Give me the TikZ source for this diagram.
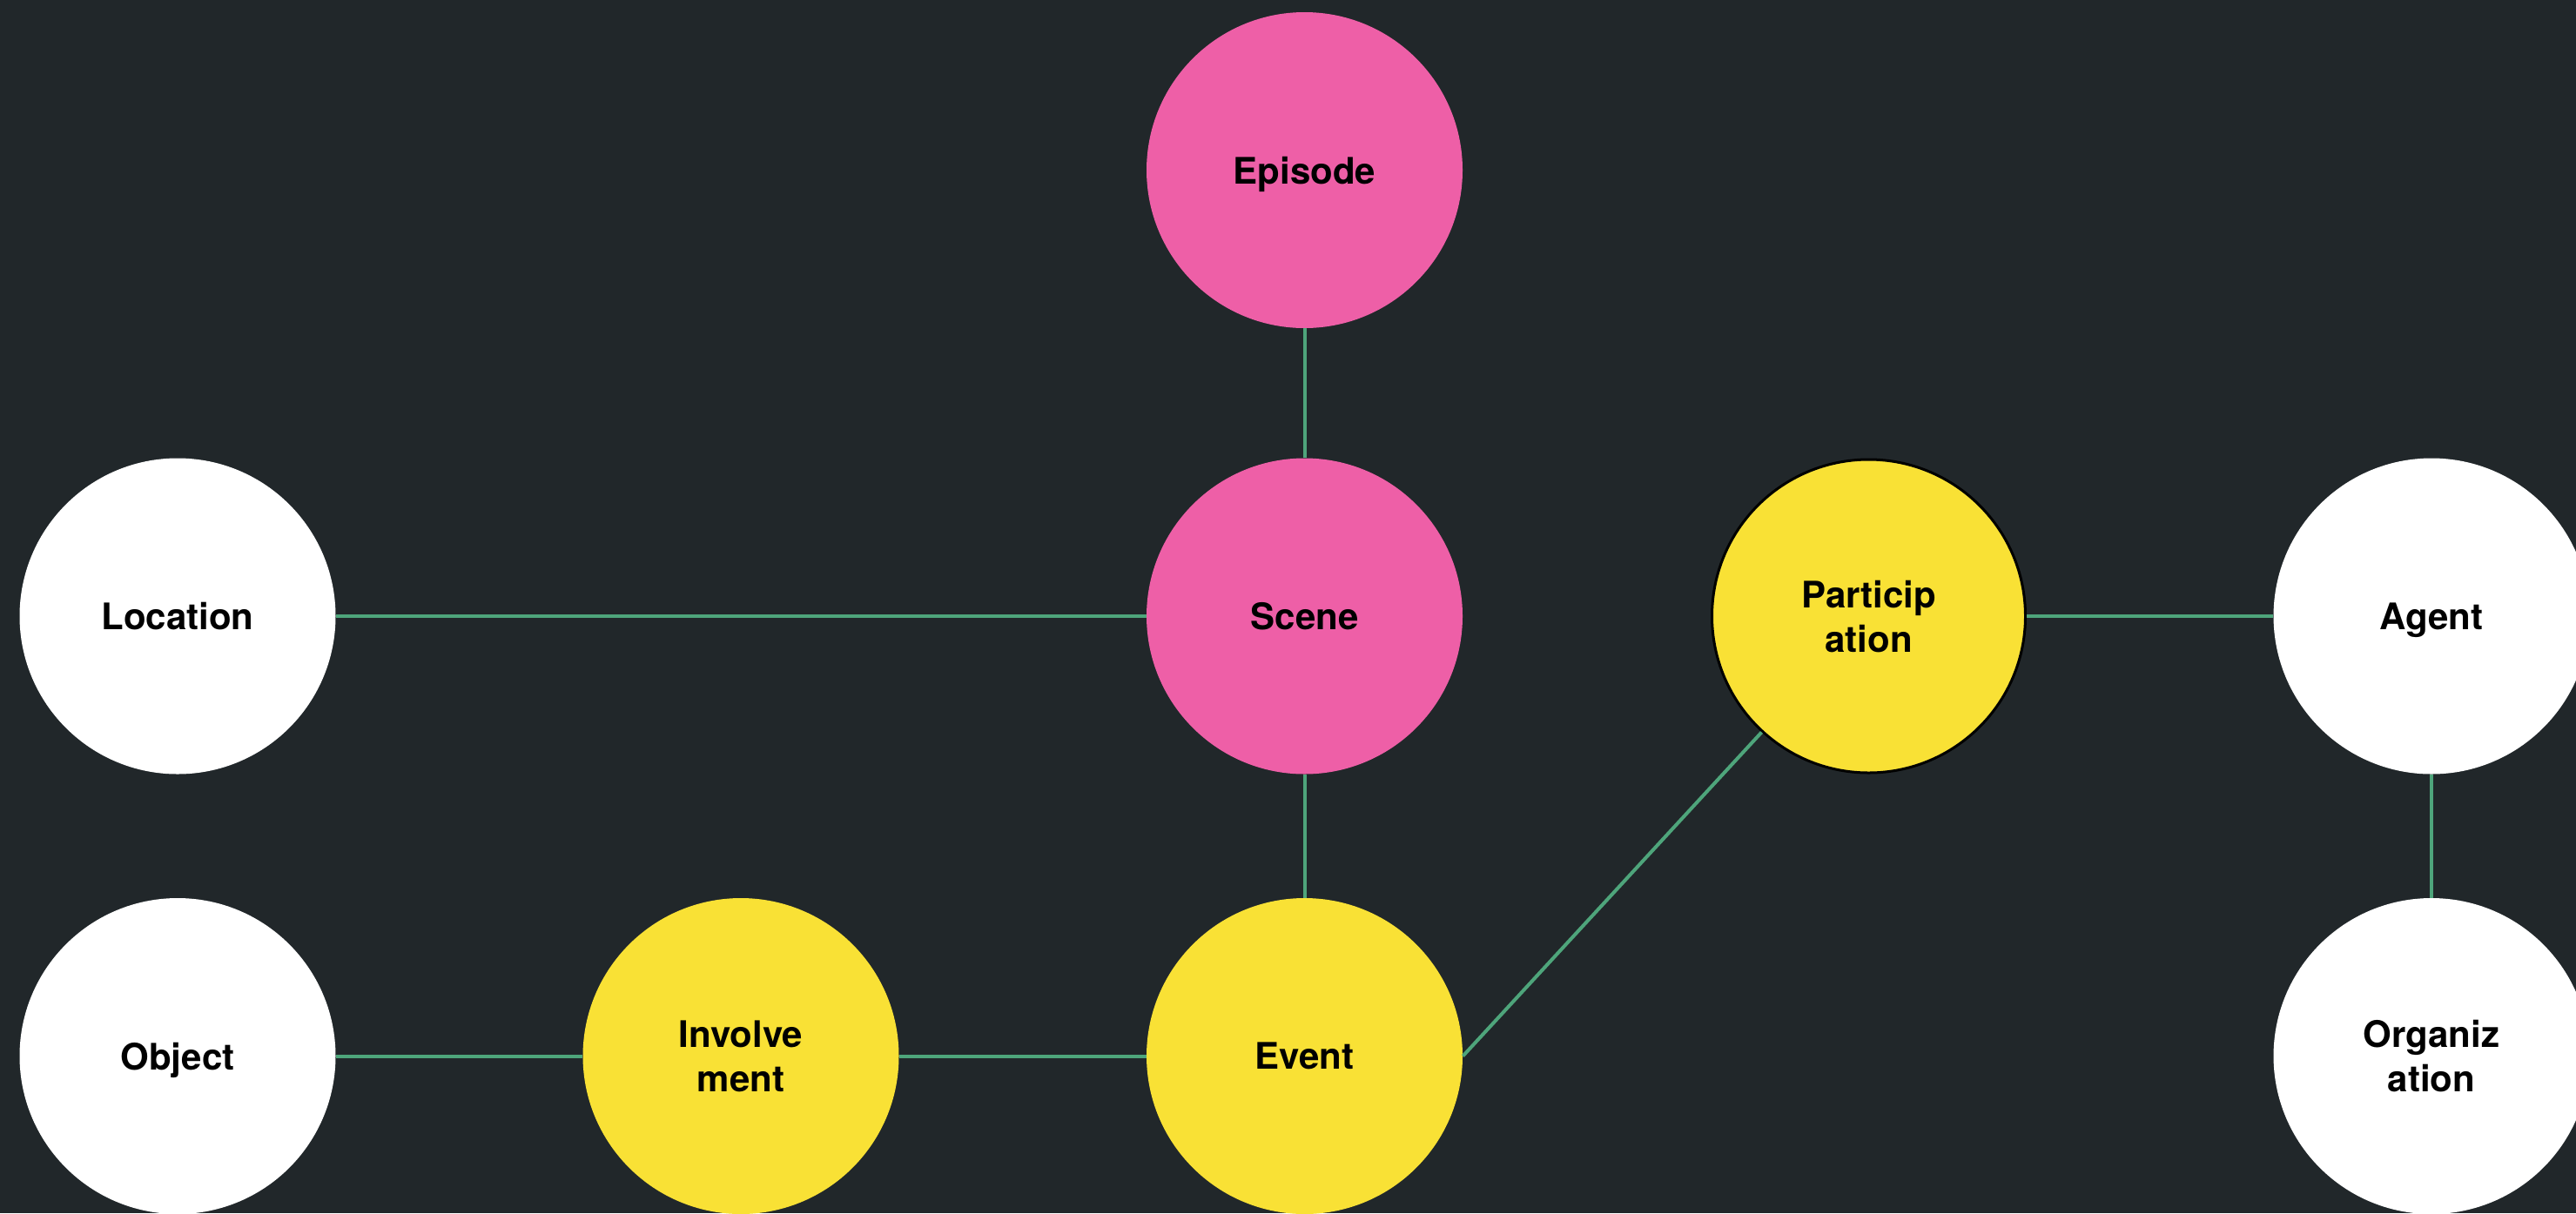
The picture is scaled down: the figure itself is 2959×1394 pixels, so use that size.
\documentclass[tikz,border=0pt]{standalone}
\usepackage{fontspec}
\setmainfont{TeX Gyre Heros}
\definecolor{bg}{HTML}{21272A}
\definecolor{edgegreen}{HTML}{4EA57B}
\definecolor{pinkc}{HTML}{EE5FA7}
\definecolor{yellowc}{HTML}{F9E135}
\tikzset{
  every picture/.style={x=0.5pt,y=-0.5pt},
  concept/.style={circle, minimum size=181.5pt, inner sep=0pt, align=center,
    text depth=0pt,
    font=\fontsize{21}{25.5}\selectfont\bfseries, text=black},
  whitec/.style={concept, fill=white},
  pinkn/.style={concept, fill=pinkc},
  yellown/.style={concept, fill=yellowc},
  outlined/.style={draw=black, line width=1.5pt, minimum size=180pt},
  link/.style={draw=edgegreen, line width=2pt},
}
\begin{document}
\begin{tikzpicture}
\fill[bg] (0,0) rectangle (2959,1394);
\useasboundingbox (0,0) rectangle (2959,1394);
\clip (0,0) rectangle (2959,1394);
\node[pinkn] (episode) at (1498.5,195.5) {Episode};
\node[pinkn] (scene) at (1498.5,708) {Scene};
\node[whitec] (location) at (204,708) {Location};
\node[yellown,outlined] (part) at (2146.5,708) {Particip\\ation};
\node[whitec] (agent) at (2793,708) {Agent};
\node[whitec] (object) at (204,1213.5) {Object};
\node[yellown] (involve) at (851,1213.5) {Involve\\ment};
\node[yellown] (event) at (1498.5,1213.5) {Event};
\node[whitec] (org) at (2793,1213.5) {Organiz\\ation};
\draw[link] (episode) -- (scene);
\draw[link] (location) -- (scene);
\draw[link] (scene) -- (event);
\draw[link] (object) -- (involve);
\draw[link] (involve) -- (event);
\draw[link] (event.east) -- (part);
\draw[link] (part) -- (agent);
\draw[link] (agent) -- (org);
\end{tikzpicture}
\end{document}
